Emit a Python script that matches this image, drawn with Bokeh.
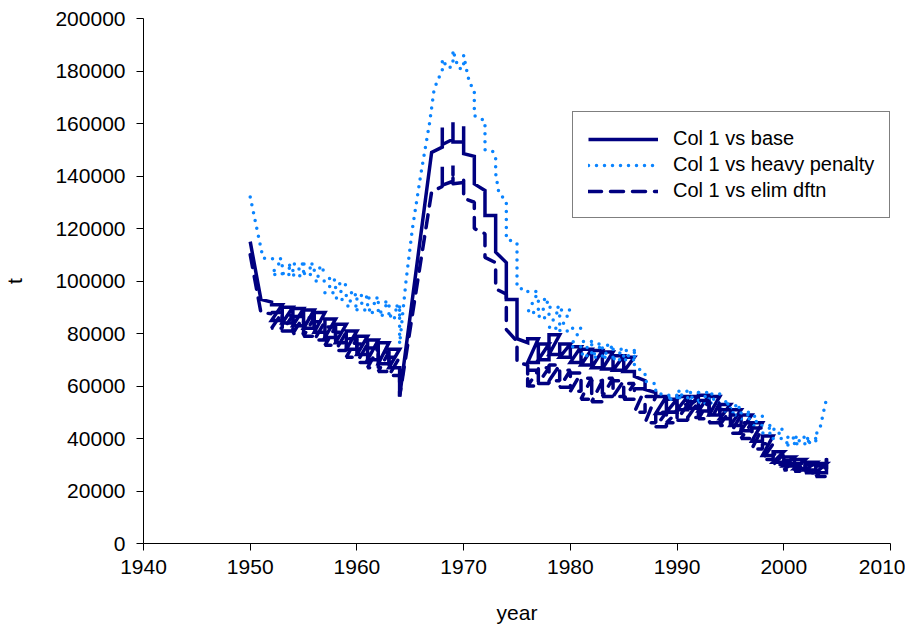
from bokeh.plotting import figure
from bokeh.models import Range1d, FixedTicker, BasicTickFormatter
from bokeh.embed import file_html
from bokeh.resources import INLINE

# ---------------- data ----------------
# Each knot: x, high value, low value (None = single point, otherwise a
# one-year zig-zag block going high -> low)
base_x = [1950, 1951, 1952,
          1952, 1953, 1954, 1955, 1956, 1957, 1958, 1959, 1960, 1961, 1962, 1963,
          1964, 1967,
          1968, 1968, 1968, 1969, 1969, 1969, 1970, 1970, 1970,
          1971, 1971, 1972, 1972, 1973, 1973, 1974, 1974, 1975, 1975, 1976,
          1976, 1977, 1978, 1979, 1980, 1981, 1982, 1983, 1984, 1985,
          1986, 1987, 1987, 1988,
          1988, 1989, 1990, 1991, 1992, 1993, 1994, 1995, 1996, 1997, 1998, 1999,
          2000, 2001, 2002, 2003,
          2004]
base_hi = [115000, 93000, 92000,
           91000, 90000, 89500, 89000, 88000, 85500, 83500, 81000, 79000, 77500, 76500, 74000,
           56000, 149000,
           151000, 158500, 152000, 154000, 160500, 153000, 153000, 159000, 148500,
           147500, 137000, 134500, 125000, 125000, 111000, 107000, 93000, 93000, 78000, 76500,
           78000, 76000, 79500, 76000, 75000, 74000, 73500, 73000, 71500, 71000,
           63700, 62000, 58700, 57500,
           56000, 55000, 56000, 56000, 56500, 56000, 53000, 51000, 49000, 46000, 41000, 35000,
           33000, 32000, 31000, 30500,
           32500]
base_lo = [None, None, None,
           85000, 84000, 83000, 82000, 80500, 78500, 76500, 74000, 72000, 70000, 68500, 67000,
           None, None,
           None, None, None, None, None, None, None, None, None,
           None, None, None, None, None, None, None, None, None, None, None,
           69000, 70000, 72000, 71000, 69000, 68000, 67000, 66500, 66000, 65500,
           None, None, None, None,
           49500, 50000, 51000, 51500, 50500, 49000, 47500, 45000, 43000, 39000, 33500, 31000,
           29500, 28500, 28000, 27000,
           None]

heavy_x = [1950, 1951.2, 1952,
           1952, 1953, 1954, 1955, 1956, 1957, 1958, 1959, 1960, 1961, 1962, 1963,
           1964, 1964, 1964.6, 1965.2, 1966, 1966.8, 1967.2, 1967.5,
           1968, 1968, 1968.5, 1969, 1969, 1969.5, 1970, 1970, 1970.4, 1970.6,
           1971, 1971, 1972, 1972, 1972.7, 1973, 1973, 1973.3, 1974, 1974, 1975, 1975, 1976,
           1976, 1977, 1978, 1979, 1980, 1981, 1982, 1983, 1984, 1985,
           1986, 1986, 1987, 1987, 1988, 1988,
           1989, 1990, 1991, 1992, 1993, 1994, 1995, 1996, 1997, 1998, 1999, 2000, 2001, 2002,
           2003, 2003.4, 2003.8, 2004]
heavy_hi = [132000, 108700, 108500,
            108500, 106000, 106500, 106500, 105000, 101000, 99000, 95500, 94500, 93500, 92000, 90500,
            91000, 76000, 100000, 120000, 141000, 160000, 172000, 176000,
            180000, 184500, 181000, 182000, 188000, 181000, 181000, 186000, 178000, 175000,
            173000, 163000, 161000, 150000, 149500, 147500, 141000, 133500, 130500, 116000, 114500, 97500, 96500,
            96000, 93000, 90000, 89000, 82000, 77000, 76000, 75500, 74000, 73500,
            73500, 67500, 65000, 61800, 60800, 57400,
            56500, 58000, 57500, 57500, 57000, 54000, 52500, 50000, 48500, 45000, 43500, 40500, 40500, 40000,
            41500, 44000, 51500, 55000]
heavy_lo = [None, None, None,
            102500, 102500, 102000, 102500, 100000, 95500, 93000, 90500, 89000, 88000, 87000, 86000,
            None, None, None, None, None, None, None, None,
            None, None, None, None, None, None, None, None, None, None,
            None, None, None, None, None, None, None, None, None, None, None, None, None,
            88000, 86000, 82000, 81000, 75000, 71500, 71000, 71000, 70000, 70000,
            None, None, None, None, None, None,
            55000, 55500, 54500, 53500, 53500, 50500, 49000, 47500, 45000, 42000, 40000, 37500, 38000, 38500,
            None, None, None, None]

elim_x = [1950, 1951, 1952,
          1952, 1953, 1954, 1955, 1956, 1957, 1958, 1959, 1960, 1961, 1962, 1963,
          1964, 1967,
          1968, 1968, 1968, 1969, 1969, 1969, 1970, 1970, 1970,
          1971, 1971, 1972, 1972, 1973, 1973, 1974, 1974, 1975, 1975, 1976, 1976,
          1976, 1977, 1978, 1979, 1980, 1981, 1982, 1983, 1984, 1985, 1986, 1987, 1988, 1989,
          1990, 1991, 1992, 1993, 1994, 1995, 1996, 1997, 1998, 1999, 2000, 2001, 2002, 2003,
          2004]
elim_hi = [110000, 88000, 87500,
           88000, 87000, 86500, 86000, 84500, 82500, 80500, 78000, 76000, 74500, 73000, 71000,
           56000, 134000,
           136000, 143500, 136500, 138000, 144000, 137000, 137500, 140000, 131500,
           130000, 120000, 118000, 109000, 107000, 97000, 95000, 81500, 77000, 69000, 68000, 59500,
           66000, 67000, 68000, 66000, 65000, 63000, 62000, 63000, 62000, 61000, 59000, 56000, 50000, 50000,
           53000, 54000, 54500, 53500, 51000, 49000, 46000, 44000, 38000, 34000, 31500, 30500, 30000, 29500,
           32000]
elim_lo = [None, None, None,
           82000, 81000, 80000, 79000, 77500, 75500, 73500, 71000, 69000, 67000, 65500, 64000,
           None, None,
           None, None, None, None, None, None, None, None, None,
           None, None, None, None, None, None, None, None, None, None, None, None,
           60000, 61000, 62000, 59500, 58000, 55000, 54000, 56000, 56000, 55000, 50000, 46000, 44500, 46000,
           47000, 48000, 47500, 46000, 45000, 42000, 40000, 36000, 32000, 30000, 28000, 27500, 27000, 25500,
           None]

x_ticks = [1940, 1950, 1960, 1970, 1980, 1990, 2000, 2010]
y_ticks = [0, 20000, 40000, 60000, 80000, 100000, 120000, 140000, 160000, 180000, 200000]
series_names = ["Col 1 vs base", "Col 1 vs heavy penalty", "Col 1 vs elim dftn"]


def path(xs, his, los):
    assert len(xs) == len(his) == len(los)
    px, py = [], []
    for x, hi, lo in zip(xs, his, los):
        if lo is None:
            px.append(x)
            py.append(hi)
        else:
            px += [x, x + 1, x, x + 1]
            py += [hi, hi, lo, lo]
    return px, py


FONT = "Liberation Sans"

p = figure(width=905, height=630,
           x_range=Range1d(1940, 2010), y_range=Range1d(0, 200000),
           output_backend="svg", toolbar_location=None,
           min_border_left=141, min_border_right=15,
           min_border_top=18, min_border_bottom=87)
p.outline_line_color = None
p.xgrid.grid_line_color = None
p.ygrid.grid_line_color = None
p.background_fill_color = "white"
p.border_fill_color = "white"

bx, by = path(base_x, base_hi, base_lo)
hx, hy = path(heavy_x, heavy_hi, heavy_lo)
ex, ey = path(elim_x, elim_hi, elim_lo)

p.line(bx, by, line_color="#000080", line_width=3.5, line_join="miter",
       legend_label=series_names[0])
p.line(hx, hy, line_color="#0A84FF", line_width=3.5, line_dash="0 8",
       line_cap="round", legend_label=series_names[1])
p.line(ex, ey, line_color="#000080", line_width=3.5, line_dash="13 9",
       line_cap="round", legend_label=series_names[2])

for ax in (p.xaxis[0], p.yaxis[0]):
    ax.axis_line_color = "black"
    ax.axis_line_width = 1
    ax.major_tick_line_color = "black"
    ax.major_tick_in = 0
    ax.major_tick_out = 7
    ax.minor_tick_line_color = None
    ax.major_label_text_font = FONT
    ax.major_label_text_font_size = "21px"
    ax.major_label_text_color = "black"
    ax.axis_label_text_font = FONT
    ax.axis_label_text_font_size = "21px"
    ax.axis_label_text_font_style = "normal"
    ax.axis_label_text_color = "black"

p.xaxis[0].ticker = FixedTicker(ticks=x_ticks)
p.yaxis[0].ticker = FixedTicker(ticks=y_ticks)
p.yaxis[0].formatter = BasicTickFormatter(use_scientific=False)
p.xaxis[0].axis_label = "year"
p.yaxis[0].axis_label = "t"
p.xaxis[0].major_label_standoff = 9
p.xaxis[0].axis_label_standoff = 24
p.yaxis[0].major_label_standoff = 11
p.yaxis[0].axis_label_standoff = 26

leg = p.legend[0]
leg.location = (429, 325)
leg.margin = 0
leg.padding = 15
leg.spacing = 3
leg.label_height = 20
leg.glyph_height = 20
leg.glyph_width = 70
leg.label_standoff = 15
leg.label_width = 200
leg.label_text_font = FONT
leg.label_text_font_size = "20px"
leg.label_text_color = "black"
leg.border_line_color = "black"
leg.border_line_width = 1
leg.background_fill_color = "white"
leg.background_fill_alpha = 1

open("out.html", "w").write(file_html(p, INLINE))
